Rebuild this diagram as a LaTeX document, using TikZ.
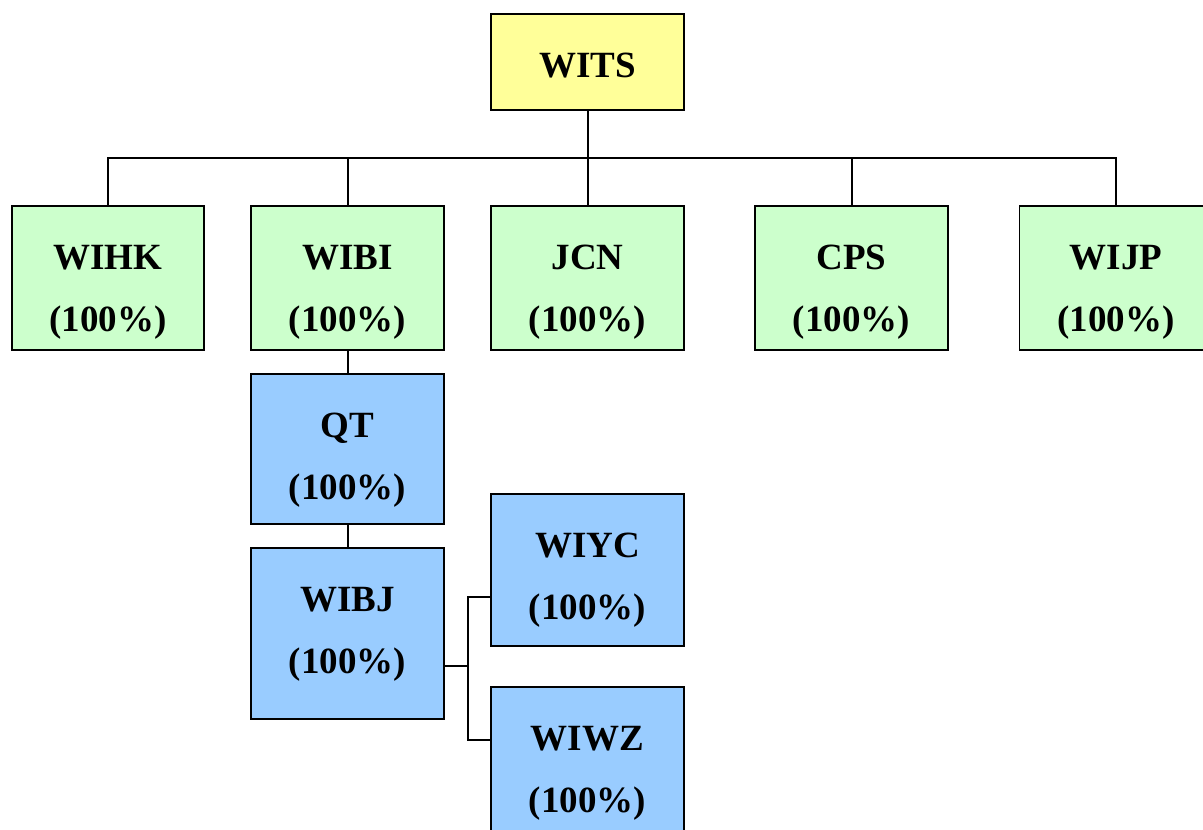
\documentclass[tikz,border=0pt]{standalone}
\usepackage{fontspec}
\setmainfont{Liberation Serif}
\definecolor{yel}{HTML}{FFFF99}
\definecolor{grn}{HTML}{CCFFCC}
\definecolor{blu}{HTML}{99CCFF}
\begin{document}
\begin{tikzpicture}[x=1pt,y=-1pt,
  box/.style={draw=black, line width=1.8pt, minimum width=193pt, inner sep=0pt},
  lbl/.style={anchor=north, inner sep=0pt, align=center, font=\fontsize{37}{62}\selectfont\bfseries},
  link/.style={line width=2pt, draw=black}]
\useasboundingbox (0,0) rectangle (1203,830);
\clip (0,0) rectangle (1203,830);
% boxes
\node[box, fill=yel, minimum height=96pt]  (WITS) at (587.5,62) {};
\node[box, fill=grn, minimum height=144pt, minimum width=192pt] (WIHK) at (108,278) {};
\node[box, fill=grn, minimum height=144pt] (WIBI) at (347.5,278) {};
\node[box, fill=grn, minimum height=144pt] (JCN)  at (587.5,278) {};
\node[box, fill=grn, minimum height=144pt] (CPS)  at (851.5,278) {};
\node[box, fill=grn, minimum height=144pt] (WIJP) at (1116,278) {};
\node[box, fill=blu, minimum height=150pt] (QT)   at (347.5,449) {};
\node[box, fill=blu, minimum height=171pt] (WIBJ) at (347.5,633.5) {};
\node[box, fill=blu, minimum height=152pt] (WIYC) at (587.5,570) {};
\node[box, fill=blu, minimum height=152pt] (WIWZ) at (587.5,763) {};
% labels
\node[lbl] (WITS-t) at ([yshift=-40pt]WITS.north) {WITS};
\foreach \n in {WIHK,WIBI,JCN,CPS,WIJP,QT,WIBJ,WIYC,WIWZ}{
  \node[lbl] (\n-t) at ([yshift=-40pt]\n.north) {\n\\(100\%)};
}
% connectors
\coordinate (bus) at (587.5,158);
\draw[link] (WITS.south) -- (bus);
\draw[link] (WIHK.north) -- (WIHK.north |- bus) -- (WIJP.north |- bus) -- (WIJP.north);
\draw[link] (WIBI.north) -- (WIBI.north |- bus);
\draw[link] (JCN.north) -- (JCN.north |- bus);
\draw[link] (CPS.north) -- (CPS.north |- bus);
\draw[link] (WIBI.south) -- (QT.north);
\draw[link] (QT.south) -- (WIBJ.north);
\coordinate (jx) at (467.5,666);
\coordinate (ja) at (467.5,597);
\coordinate (jb) at (467.5,740);
\draw[link] (WIBJ.east |- jx) -- (jx);
\draw[link] (WIYC.west |- ja) -- (ja) -- (jb) -- (WIWZ.west |- jb);
\end{tikzpicture}
\end{document}
